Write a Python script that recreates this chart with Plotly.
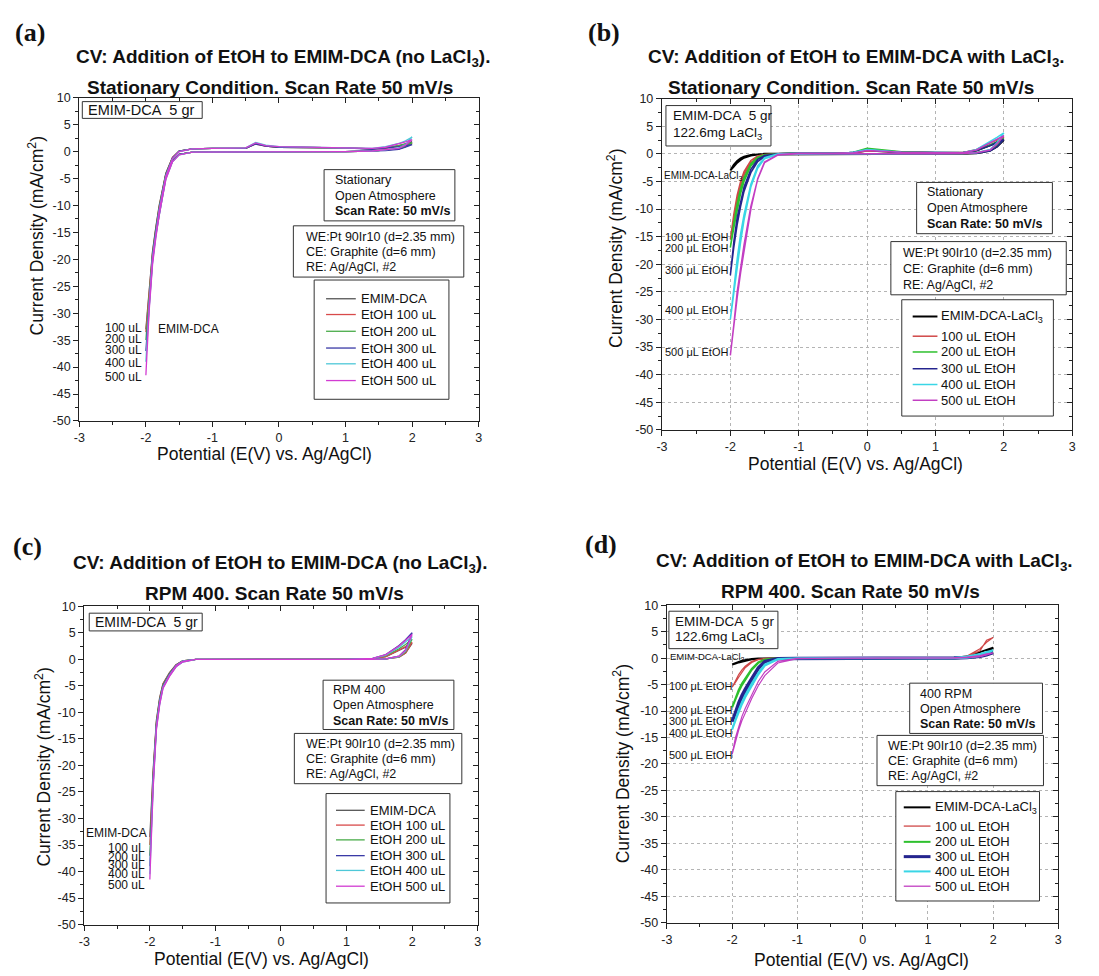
import plotly.graph_objects as go

W, H = 1099, 976
SANS = "Liberation Sans, Arial, Helvetica, sans-serif"
SERIF = "Liberation Serif, Times New Roman, serif"
INK = "#111111"

# ---------------- data ----------------
# potential path of one CV cycle: -2 V -> +2 V -> -2 V
E_CV = [-2.0, -1.95, -1.9, -1.85, -1.8, -1.7, -1.6, -1.5, -1.3, -1.0, -0.5, -0.35, -0.2,
        0.0, 0.5, 1.0, 1.4, 1.6, 1.8, 1.9, 2.0,
        1.9, 1.8, 1.6, 1.4, 1.0, 0.5, 0.0, -0.5, -1.0, -1.3, -1.5, -1.6, -1.7, -1.8,
        -1.85, -1.9, -1.95, -2.0]

X_TICKS = [-3, -2, -1, 0, 1, 2, 3]
Y_TICKS = [10, 5, 0, -5, -10, -15, -20, -25, -30, -35, -40, -45, -50]

NAMES_NO_LA = ["EMIM-DCA", "EtOH 100 uL", "EtOH 200 uL", "EtOH 300 uL", "EtOH 400 uL", "EtOH 500 uL"]
NAMES_LA = ["EMIM-DCA-LaCl<sub>3</sub>", "100 uL EtOH", "200 uL EtOH", "300 uL EtOH", "400 uL EtOH", "500 uL EtOH"]

# (a) stationary, no LaCl3
A_EMIM = [-33.0, -26.0, -18.5, -14.0, -10.0, -4.0, -1.1, 0.1, 0.5, 0.6, 0.6, 1.5, 1.0, 0.8, 0.8, 0.7, 0.5, 0.7, 1.1, 1.4, 1.8,
          1.0, 0.6, 0.3, 0.1, 0.0, 0.0, 0.0, 0.0, 0.0, -0.1, -0.5, -1.6, -4.6, -10.8, -14.8, -19.5, -27.0, -33.0]
A_100 = [-33.5, -26.5, -18.8, -14.2, -10.2, -4.1, -1.1, 0.1, 0.5, 0.6, 0.6, 1.4, 1.0, 0.8, 0.8, 0.7, 0.5, 0.6, 1.0, 1.2, 1.5,
         0.9, 0.5, 0.3, 0.1, 0.0, 0.0, 0.0, 0.0, 0.0, -0.1, -0.5, -1.7, -4.7, -11.0, -15.0, -19.8, -27.5, -33.5]
A_200 = [-35.0, -27.0, -19.0, -14.4, -10.4, -4.2, -1.2, 0.1, 0.5, 0.6, 0.6, 1.5, 1.1, 0.8, 0.8, 0.7, 0.5, 0.7, 1.1, 1.3, 1.6,
         0.9, 0.5, 0.3, 0.1, 0.0, 0.0, 0.0, 0.0, 0.0, -0.1, -0.5, -1.7, -4.8, -11.2, -15.2, -20.0, -28.0, -35.0]
A_300 = [-37.0, -27.5, -19.3, -14.6, -10.6, -4.3, -1.2, 0.1, 0.5, 0.6, 0.6, 1.4, 1.0, 0.8, 0.7, 0.7, 0.4, 0.6, 0.9, 1.1, 1.3,
         0.8, 0.4, 0.2, 0.1, 0.0, 0.0, 0.0, 0.0, 0.0, -0.1, -0.5, -1.8, -4.9, -11.4, -15.4, -20.3, -28.5, -37.0]
A_400 = [-39.0, -28.0, -19.6, -14.8, -10.8, -4.5, -1.3, 0.0, 0.5, 0.6, 0.7, 1.7, 1.2, 0.9, 0.8, 0.8, 0.6, 0.9, 1.5, 2.0, 2.7,
         1.3, 0.7, 0.3, 0.1, 0.0, 0.0, 0.0, 0.0, 0.0, -0.1, -0.6, -1.9, -5.1, -11.6, -15.7, -20.6, -29.0, -39.0]
A_500 = [-41.5, -28.5, -19.9, -15.0, -11.0, -4.6, -1.3, 0.0, 0.5, 0.6, 0.7, 1.6, 1.1, 0.9, 0.8, 0.8, 0.6, 0.8, 1.4, 1.8, 2.2,
         1.2, 0.6, 0.3, 0.1, 0.0, 0.0, 0.0, 0.0, 0.0, -0.1, -0.6, -1.9, -5.2, -11.8, -16.0, -21.0, -29.5, -41.5]

# (b) stationary, with LaCl3
B_EMIM = [-3.0, -2.0, -1.3, -0.8, -0.5, -0.2, -0.1, 0.0, 0.0, 0.1, 0.1, 0.1, 0.2, 0.6, 0.3, 0.2, 0.2, 0.6, 1.5, 2.0, 2.5,
          1.3, 0.6, 0.1, 0.0, 0.0, 0.0, 0.0, 0.0, 0.0, 0.0, -0.05, -0.1, -0.3, -0.7, -1.1, -1.6, -2.3, -3.0]
B_100 = [-15.5, -11.0, -7.5, -5.0, -3.2, -1.2, -0.4, -0.1, 0.0, 0.1, 0.1, 0.1, 0.2, 0.5, 0.3, 0.2, 0.2, 0.8, 2.0, 2.5, 3.0,
         1.6, 0.7, 0.2, 0.05, 0.0, 0.0, 0.0, 0.0, 0.0, 0.0, -0.2, -0.6, -1.6, -3.8, -5.8, -8.5, -12.0, -15.5]
B_200 = [-17.0, -12.5, -9.0, -6.2, -4.3, -1.8, -0.6, -0.15, 0.0, 0.1, 0.1, 0.1, 0.3, 1.0, 0.4, 0.2, 0.2, 0.6, 1.6, 2.2, 2.8,
         1.5, 0.6, 0.15, 0.05, 0.0, 0.0, 0.0, 0.0, 0.0, 0.0, -0.3, -0.9, -2.2, -5.0, -7.2, -10.2, -13.5, -17.0]
B_300 = [-22.0, -16.0, -11.5, -8.5, -6.0, -2.8, -1.0, -0.3, 0.0, 0.1, 0.1, 0.1, 0.3, 0.7, 0.3, 0.2, 0.2, 0.6, 1.5, 2.1, 2.6,
         1.3, 0.5, 0.1, 0.05, 0.0, 0.0, 0.0, 0.0, 0.0, -0.05, -0.5, -1.4, -3.4, -6.8, -9.5, -12.8, -17.0, -22.0]
B_400 = [-30.0, -24.0, -19.0, -14.5, -11.0, -5.5, -2.2, -0.7, 0.0, 0.1, 0.1, 0.1, 0.3, 0.8, 0.3, 0.2, 0.2, 0.8, 2.2, 3.0, 3.8,
         2.0, 0.8, 0.2, 0.05, 0.0, 0.0, 0.0, 0.0, 0.0, -0.1, -0.9, -2.6, -6.0, -12.0, -16.0, -20.5, -25.5, -30.0]
B_500 = [-36.5, -31.0, -26.0, -21.5, -17.5, -10.0, -4.5, -1.5, -0.1, 0.1, 0.1, 0.1, 0.2, 0.6, 0.3, 0.2, 0.2, 0.7, 2.0, 2.7, 3.3,
         1.8, 0.7, 0.2, 0.05, 0.0, 0.0, 0.0, 0.0, 0.0, -0.2, -1.6, -4.6, -9.5, -16.5, -20.5, -25.0, -31.0, -36.5]

# (c) RPM 400, no LaCl3
C_EMIM = [-33.5, -21.0, -11.5, -7.2, -4.6, -2.5, -1.0, -0.3, 0.0, 0.0, 0.0, 0.0, 0.0, 0.0, 0.0, 0.0, 0.1, 0.5, 1.6, 2.3, 3.0,
          1.2, 0.4, 0.1, 0.0, 0.0, 0.0, 0.0, 0.0, 0.0, 0.0, -0.4, -1.2, -2.7, -4.8, -7.6, -12.0, -22.0, -33.5]
C_100 = [-35.0, -21.5, -11.8, -7.4, -4.7, -2.6, -1.0, -0.3, 0.0, 0.0, 0.0, 0.0, 0.0, 0.0, 0.0, 0.0, 0.1, 0.5, 1.7, 2.4, 3.2,
         1.2, 0.4, 0.1, 0.0, 0.0, 0.0, 0.0, 0.0, 0.0, 0.0, -0.4, -1.2, -2.8, -4.9, -7.8, -12.3, -22.5, -35.0]
C_200 = [-37.0, -22.0, -12.0, -7.6, -4.9, -2.7, -1.1, -0.3, 0.0, 0.0, 0.0, 0.0, 0.0, 0.0, 0.0, 0.0, 0.2, 0.7, 2.0, 2.8, 3.8,
         1.4, 0.5, 0.1, 0.0, 0.0, 0.0, 0.0, 0.0, 0.0, 0.0, -0.4, -1.3, -2.9, -5.0, -8.0, -12.5, -23.0, -37.0]
C_300 = [-39.0, -22.5, -12.3, -7.8, -5.0, -2.8, -1.1, -0.35, 0.0, 0.0, 0.0, 0.0, 0.0, 0.0, 0.0, 0.0, 0.2, 0.9, 2.6, 3.7, 5.0,
         1.8, 0.6, 0.1, 0.0, 0.0, 0.0, 0.0, 0.0, 0.0, 0.0, -0.45, -1.3, -3.0, -5.2, -8.2, -12.8, -23.5, -39.0]
C_400 = [-40.5, -23.0, -12.6, -8.0, -5.2, -2.9, -1.2, -0.35, 0.0, 0.0, 0.0, 0.0, 0.0, 0.0, 0.0, 0.0, 0.2, 0.8, 2.3, 3.3, 4.3,
         1.6, 0.5, 0.1, 0.0, 0.0, 0.0, 0.0, 0.0, 0.0, 0.0, -0.5, -1.4, -3.1, -5.4, -8.4, -13.0, -24.0, -40.5]
C_500 = [-41.5, -23.5, -12.8, -8.2, -5.3, -3.0, -1.2, -0.4, 0.0, 0.0, 0.0, 0.0, 0.0, 0.0, 0.0, 0.0, 0.2, 0.9, 2.5, 3.6, 4.7,
         1.7, 0.6, 0.1, 0.0, 0.0, 0.0, 0.0, 0.0, 0.0, 0.0, -0.5, -1.4, -3.2, -5.5, -8.6, -13.3, -24.5, -41.5]

# (d) RPM 400, with LaCl3
D_EMIM = [-1.2, -0.9, -0.7, -0.5, -0.35, -0.15, -0.05, 0.0, 0.0, 0.0, 0.0, 0.0, 0.0, 0.0, 0.0, 0.0, 0.1, 0.3, 1.2, 1.5, 2.0,
          1.0, 0.4, 0.1, 0.0, 0.0, 0.0, 0.0, 0.0, 0.0, 0.0, 0.0, -0.1, -0.2, -0.45, -0.6, -0.8, -1.0, -1.2]
D_100 = [-5.5, -4.2, -3.1, -2.2, -1.5, -0.6, -0.2, -0.05, 0.0, 0.0, 0.0, 0.0, 0.0, 0.0, 0.0, 0.0, 0.1, 0.4, 1.8, 3.0, 3.9,
         3.4, 1.4, 0.3, 0.0, 0.0, 0.0, 0.0, 0.0, 0.0, 0.0, -0.1, -0.3, -0.8, -1.8, -2.6, -3.6, -4.6, -5.5]
D_200 = [-9.3, -7.6, -6.0, -4.8, -3.8, -2.0, -0.8, -0.25, 0.0, 0.0, 0.0, 0.0, 0.0, 0.0, 0.0, 0.0, 0.1, 0.2, 0.6, 0.9, 1.2,
         0.7, 0.3, 0.1, 0.0, 0.0, 0.0, 0.0, 0.0, 0.0, -0.05, -0.3, -0.9, -2.2, -4.1, -5.1, -6.3, -7.8, -9.3]
D_300 = [-12.0, -10.1, -8.4, -7.0, -5.8, -3.8, -1.8, -0.6, -0.05, 0.0, 0.0, 0.0, 0.0, 0.0, 0.0, 0.0, 0.1, 0.2, 0.5, 0.8, 1.0,
         0.6, 0.3, 0.1, 0.0, 0.0, 0.0, 0.0, 0.0, 0.0, -0.1, -0.7, -2.0, -4.1, -6.2, -7.4, -8.8, -10.4, -12.0]
D_400 = [-13.5, -11.5, -9.8, -8.3, -7.0, -4.8, -2.8, -1.2, -0.15, 0.0, 0.0, 0.0, 0.0, 0.0, 0.0, 0.0, 0.1, 0.3, 0.8, 1.2, 1.5,
         0.8, 0.4, 0.1, 0.0, 0.0, 0.0, 0.0, 0.0, 0.0, -0.2, -1.4, -3.1, -5.2, -7.4, -8.7, -10.1, -11.8, -13.5]
D_500 = [-18.2, -15.8, -13.6, -11.8, -10.3, -7.6, -5.2, -3.3, -0.9, -0.1, 0.0, 0.0, 0.0, 0.0, 0.0, 0.0, 0.1, 0.2, 0.5, 0.8, 1.0,
         0.6, 0.3, 0.1, 0.0, 0.0, 0.0, 0.0, 0.0, -0.05, -0.6, -2.6, -4.4, -6.8, -9.5, -11.0, -12.8, -15.0, -18.2]

COLORS_AC = ["#555555", "#d84a4a", "#4aac4a", "#3a3aa6", "#4ec8d8", "#d23cd2"]
COLORS_BD = ["#000000", "#d04848", "#2ec02e", "#24248e", "#3ad6e6", "#c23ec2"]


# ---------------- helpers ----------------
def X(p):
    return p / W


def Y(p):
    return 1 - p / H


annotations = []
shapes = []


def txt(text, x, y, size=13, anchor="left", family=SANS, angle=0):
    annotations.append(dict(text=text, x=X(x), y=Y(y), xref="paper", yref="paper",
                            xanchor=anchor, yanchor="middle", showarrow=False,
                            textangle=angle, font=dict(family=family, size=size, color=INK)))


def box(l, t, r, b):
    shapes.append(dict(type="rect", xref="paper", yref="paper", x0=X(l), x1=X(r), y0=Y(b), y1=Y(t),
                       line=dict(color="#333333", width=1), fillcolor="white", layer="above"))


def hline(x0, x1, y, color, width):
    shapes.append(dict(type="line", xref="paper", yref="paper", x0=X(x0), x1=X(x1), y0=Y(y), y1=Y(y),
                       line=dict(color=color, width=width), layer="above"))


panels = [
    dict(dom=(74, 477, 92, 420), grid=False, colors=COLORS_AC, names=NAMES_NO_LA,
         widths=[1.3] * 6, series=[A_EMIM, A_100, A_200, A_300, A_400, A_500]),
    dict(dom=(662, 1076, 93, 429), grid=True, colors=COLORS_BD, names=NAMES_LA,
         widths=[2.0, 1.5, 1.5, 1.5, 1.5, 1.5], series=[B_EMIM, B_100, B_200, B_300, B_400, B_500]),
    dict(dom=(79, 476, 608, 931), grid=False, colors=COLORS_AC, names=NAMES_NO_LA,
         widths=[1.3] * 6, series=[C_EMIM, C_100, C_200, C_300, C_400, C_500]),
    dict(dom=(667, 1062, 607, 929), grid=True, colors=COLORS_BD, names=NAMES_LA,
         widths=[2.0, 1.2, 2.0, 3.0, 2.0, 1.2], series=[D_EMIM, D_100, D_200, D_300, D_400, D_500]),
]

fig = go.Figure()
layout = {}
tickfont = dict(family=SANS, size=12.5, color="#222222")
TK = "#222222"

for i, P in enumerate(panels):
    sfx = "" if i == 0 else str(i + 1)
    l, r, t, b = P["dom"]
    common = dict(showline=True, linecolor=TK, linewidth=1.3, mirror=True,
                  showgrid=P["grid"], gridcolor="#b4b4b4", griddash="dot", gridwidth=1,
                  zeroline=False, tickfont=tickfont, fixedrange=True,
                  ticks="outside", ticklen=5, tickwidth=1, tickcolor=TK)
    xminor = dict(tickmode="linear", tick0=0, dtick=0.5, ticklen=3, tickcolor=TK)
    yminor = dict(tickmode="linear", tick0=0, dtick=2.5, ticklen=3, tickcolor=TK)
    layout["xaxis" + sfx] = dict(domain=[X(l), X(r)], anchor="y" + sfx, range=[-3, 3],
                                 tickmode="array", tickvals=X_TICKS, ticktext=[str(v) for v in X_TICKS],
                                 minor=dict(ticks="outside", **xminor), **common)
    layout["yaxis" + sfx] = dict(domain=[Y(b), Y(t)], anchor="x" + sfx, range=[-50, 10],
                                 tickmode="array", tickvals=Y_TICKS, ticktext=[str(v) for v in Y_TICKS],
                                 minor=dict(ticks="outside", **yminor), **common)
    # top / right axes carrying inward ticks (Origin style frame)
    tx, ty = str(5 + i), str(5 + i)
    inner = dict(showline=False, showgrid=False, zeroline=False, showticklabels=False, fixedrange=True,
                 ticks="inside", ticklen=5, tickwidth=1, tickcolor=TK)
    layout["xaxis" + tx] = dict(overlaying="x" + sfx, side="top", anchor="y" + sfx, range=[-3, 3],
                                tickmode="array", tickvals=X_TICKS,
                                minor=dict(ticks="inside", **xminor), **inner)
    layout["yaxis" + ty] = dict(overlaying="y" + sfx, side="right", anchor="x" + sfx, range=[-50, 10],
                                tickmode="array", tickvals=Y_TICKS,
                                minor=dict(ticks="inside", **yminor), **inner)
    for vals, name, col, w in zip(P["series"], P["names"], P["colors"], P["widths"]):
        fig.add_trace(go.Scatter(x=E_CV, y=vals, mode="lines", name=name,
                                 line=dict(color=col, width=w),
                                 xaxis="x" + sfx, yaxis="y" + sfx, showlegend=False))
    fig.add_trace(go.Scatter(x=[], y=[], mode="lines", xaxis="x" + tx, yaxis="y" + ty,
                             showlegend=False, hoverinfo="skip"))

YT = "Current Density (mA/cm<sup>2</sup>)"
XT = "Potential (E(V) vs. Ag/AgCl)"
T1_NO = "<b>CV: Addition of EtOH to EMIM-DCA (no LaCl<sub>3</sub>).</b>"
T1_LA = "<b>CV: Addition of EtOH to EMIM-DCA with LaCl<sub>3</sub>.</b>"
T2_ST = "<b>Stationary Condition. Scan Rate 50 mV/s</b>"
T2_RPM = "<b>RPM 400. Scan Rate 50 mV/s</b>"
SCAN = "<b>Scan Rate: 50 mV/s</b>"
ELEC = ["WE:Pt 90Ir10 (d=2.35 mm)", "CE: Graphite (d=6 mm)", "RE: Ag/AgCl, #2"]
BASE = "EMIM-DCA\u00a0\u00a05 gr"
LA_MASS = "122.6mg LaCl<sub>3</sub>"
TITLE_SIZE = 19
AXT_SIZE = 17.5


def legend(P, l, t, r, b, ys, lx0, lx1, tx, size=13):
    box(l, t, r, b)
    for y, name, col, w in zip(ys, P["names"], P["colors"], P["widths"]):
        hline(lx0, lx1, y, col, max(w, 1.3))
        txt(name, tx, y, size)


# ---- panel (a)
P = panels[0]
txt("<b>(a)</b>", 24, 26, 26, "center", SERIF)
txt(T1_NO, 280, 52, TITLE_SIZE, "center")
txt(T2_ST, 266, 82, TITLE_SIZE, "center")
txt(YT, 30, 232, AXT_SIZE, "center", angle=-90)
txt(XT, 261, 454, AXT_SIZE, "center")
box(77, 96, 198, 113)
txt(BASE, 81, 104.5, 14.5)
box(321, 165, 453, 217)
for s, y in zip(["Stationary", "Open Atmosphere", SCAN], [176, 192, 207]):
    txt(s, 330, y, 12.5)
box(290, 222, 462, 274)
for s, y in zip(ELEC, [233, 249, 264]):
    txt(s, 301, y, 12.5)
legend(P, 311, 277, 447, 398, [296, 312, 329, 346, 362, 379], 323, 353, 356)
for s, y in zip(["100 uL", "200 uL", "300 uL", "400 uL", "500 uL"], [326, 337, 348, 361, 375]):
    txt(s, 139, y, 12, "right")
txt("EMIM-DCA", 151, 327, 12)

# ---- panel (b)
P = panels[1]
txt("<b>(b)</b>", 603, 26, 26, "center", SERIF)
txt(T1_LA, 858, 52, TITLE_SIZE, "center")
txt(T2_ST, 853, 82, TITLE_SIZE, "center")
txt(YT, 615, 245, AXT_SIZE, "center", angle=-90)
txt(XT, 857, 464, AXT_SIZE, "center")
box(666, 100, 772, 141)
txt(BASE, 671, 110, 13.5)
txt(LA_MASS, 671, 128, 13.5)
txt("EMIM-DCA-LaCl<sub>3</sub>", 662, 171, 10)
for s, y in zip(["100 μL EtOH", "200 μL EtOH", "300 μL EtOH", "400 μL EtOH", "500 μL EtOH"],
                [233, 245, 267, 307, 350]):
    txt(s, 663, y, 11)
box(919, 178, 1056, 230)
for s, y in zip(["Stationary", "Open Atmosphere", SCAN], [188, 204, 220]):
    txt(s, 927, y, 12.5)
box(893, 238, 1070, 292)
for s, y in zip(ELEC, [250, 266, 282]):
    txt(s, 903, y, 12.5)
legend(P, 904, 297, 1057, 415, [314, 334, 350, 367, 383, 399], 915, 940, 942)

# ---- panel (c)
P = panels[2]
txt("<b>(c)</b>", 22, 547, 26, "center", SERIF)
txt(T1_NO, 277, 565, TITLE_SIZE, "center")
txt(T2_RPM, 271, 595, TITLE_SIZE, "center")
txt(YT, 37, 771, AXT_SIZE, "center", angle=-90)
txt(XT, 258, 966, AXT_SIZE, "center")
box(84, 615, 198, 633)
txt(BASE, 88, 624, 14)
box(320, 683, 452, 733)
for s, y in zip(["RPM 400", "Open Atmosphere", SCAN], [693, 708, 724]):
    txt(s, 328, y, 12.5)
box(291, 737, 460, 788)
for s, y in zip(ELEC, [748, 763, 778]):
    txt(s, 301, y, 12.5)
legend(P, 323, 798, 448, 909, [815, 830, 845, 861, 876, 892], 333, 362, 365)
txt("EMIM-DCA", 144, 838, 12, "right")
for s, y in zip(["100 uL", "200 uL", "300 uL", "400 uL", "500 uL"], [853, 862, 870, 880, 891]):
    txt(s, 142, y, 12, "right")

# ---- panel (d)
P = panels[3]
txt("<b>(d)</b>", 600, 545, 26, "center", SERIF)
txt(T1_LA, 866, 563, TITLE_SIZE, "center")
txt(T2_RPM, 852, 593, TITLE_SIZE, "center")
txt(YT, 621, 768, AXT_SIZE, "center", angle=-90)
txt(XT, 863, 967, AXT_SIZE, "center")
box(669, 613, 779, 651)
txt(BASE, 673, 623, 13.5)
txt(LA_MASS, 673, 640, 13.5)
txt("EMIM-DCA-LaCl<sub>3</sub>", 668, 659, 9.5)
for s, y in zip(["100 μL EtOH", "200 μL EtOH", "300 μL EtOH", "400 μL EtOH", "500 μL EtOH"],
                [689, 713, 724, 737, 759]):
    txt(s, 667, y, 11)
box(912, 686, 1046, 737)
for s, y in zip(["400 RPM", "Open Atmosphere", SCAN], [697, 712, 727]):
    txt(s, 920, y, 12.5)
box(879, 739, 1047, 790)
for s, y in zip(ELEC, [750, 765, 780]):
    txt(s, 888, y, 12.5)
legend(P, 898, 796, 1043, 907, [812, 831, 847, 862, 877, 892], 906, 933, 936)

fig.update_layout(
    width=W, height=H, autosize=False,
    margin=dict(l=0, r=0, t=0, b=0),
    paper_bgcolor="white", plot_bgcolor="white",
    showlegend=False,
    font=dict(family=SANS, color=INK),
    annotations=annotations, shapes=shapes,
    **layout,
)

fig.write_html("out.html")
